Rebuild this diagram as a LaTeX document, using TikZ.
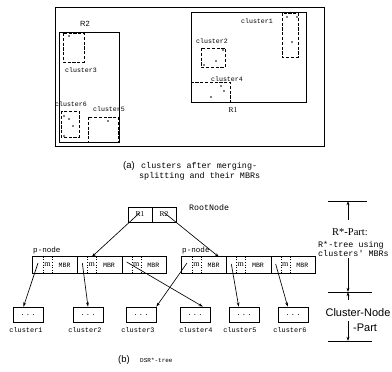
\documentclass[tikz,border=0pt]{standalone}
\usepackage{fontspec}
\setmainfont{Liberation Serif}
\setmonofont{Liberation Mono}
\setsansfont{Liberation Sans}
\usetikzlibrary{arrows.meta}
\newcommand\fsz[1]{\fontsize{#1}{#1}\selectfont}
\begin{document}
\begin{tikzpicture}[x=1pt,y=-1pt,
  thin/.style={draw, line width=0.65pt},
  mbr/.style={draw, line width=0.9pt, dash pattern=on 3.2pt off 1.6pt},
  pdot/.style={fill, circle, inner sep=0pt, minimum size=1.7pt},
  lab/.style={font=\ttfamily\fsz{6.6}, inner sep=0pt},
  captext/.style={font=\ttfamily\fsz{8.4}, inner sep=0pt, anchor=west},
  arr/.style={-{Stealth[length=4.2pt,width=2.8pt]}, line width=0.65pt},
  rbox/.style={draw, line width=0.65pt, minimum width=24pt, minimum height=15pt, inner sep=0pt, font=\rmfamily\fsz{7.5}},
  cbox/.style={draw, line width=0.7pt, minimum width=30pt, minimum height=15pt, inner sep=0pt, font=\ttfamily\fsz{7}},
  cell/.style={minimum height=16pt, inner sep=0pt},
]
\useasboundingbox (0,0) rectangle (392,372);

% ---------- (a) plane with MBRs ----------
\draw[thin] (55,7) rectangle (324,146);
\draw[thin] (59,32) rectangle (119,142);
\node[font=\sffamily\fsz{7.5}, inner sep=0pt] (R2lab) at (85,24) {R2};
\draw[thin] (191,12) rectangle (306,102);
\node[font=\rmfamily\fsz{7.5}, inner sep=0pt] (R1lab) at (233,110) {R1};

% clusters in R2
\draw[mbr] (63,33) rectangle (84,62);
\node[lab] (l3) at (81,70) {cluster3};
\draw[mbr] (61,111) rectangle (79,137);
\node[lab] (l6) at (71,104) {cluster6};
\draw[mbr] (88,117) rectangle (118,142);
\node[lab] (l5) at (109,109) {cluster5};
% clusters in R1
\draw[mbr] (282,13) rectangle (298,57);
\node[lab] (l1) at (257,21) {cluster1};
\draw[mbr] (201,48) rectangle (225,67);
\node[lab] (l2) at (212,41) {cluster2};
\draw[mbr] (191,82) rectangle (230,102);
\node[lab] (l4) at (227,79) {cluster4};

% points
\foreach \p in {(69,36),(64,116),(69,119),(73,126),(64,136),(108,121),
  (287,17),(297,17),(292,42),(223,50),(216,61),(204,65),(221,86),(224,91),(211,97)}
  \node[pdot] at \p {};

% caption (a)
\node[font=\sffamily\fsz{9.5}, inner sep=0pt, anchor=west] (capa) at (123,166) {(a)};
\node[captext] (capa1) at (141,166) {clusters after merging-};
\node[captext] (capa2) at (139,176) {splitting and their MBRs};

% ---------- (b) DSR*-tree ----------
\node[rbox] (r1) at (140,214.5) {R1};
\node[rbox] (r2) at (164,214.5) {R2};
\node[font=\ttfamily\fsz{8.3}, inner sep=0pt, anchor=west] (rootlab) at (189,208) {RootNode};

\node[font=\ttfamily\fsz{7.6}, inner sep=0pt, anchor=west] (pl) at (33,251) {p-node};
\node[font=\ttfamily\fsz{7.6}, inner sep=0pt, anchor=west] (pr) at (182,251) {p-node};

\foreach \nm/\x in {L1/33,L2/77.33,L3/121.67,R1/182,R2/226.33,R3/270.67}{
  \node[cell, minimum width=10pt] (\nm p) at (\x+5,265) {};
  \node[cell, minimum width=9pt, font=\rmfamily\fsz{8}] (\nm m) at (\x+14.5,265) {m};
  \node[cell, minimum width=25.33pt, font=\ttfamily\fsz{6.6}] (\nm b) at (\x+31.67,265) {MBR};
  \draw[dotted, line width=0.6pt] (\nm p.north east) -- (\nm p.south east);
  \draw[dotted, line width=0.6pt] (\nm m.north east) -- (\nm m.south east);
}
\draw[line width=0.7pt] (L1p.north west) rectangle (L3b.south east);
\draw[line width=0.7pt] (L1b.north east) -- (L1b.south east);
\draw[line width=0.7pt] (L2b.north east) -- (L2b.south east);
\draw[line width=0.7pt] (R1p.north west) rectangle (R3b.south east);
\draw[line width=0.7pt] (R1b.north east) -- (R1b.south east);
\draw[line width=0.7pt] (R2b.north east) -- (R2b.south east);

% cluster boxes
\foreach \nm/\x in {c1/28,c2/88,c3/141,c4/195,c5/244,c6/293}{
  \node[cbox] (\nm) at (\x,314.5) {.\,.\,.};
}
\node[lab, font=\ttfamily\fsz{6.9}] (t1) at (26,330) {cluster1};
\node[lab, font=\ttfamily\fsz{6.9}] (t2) at (85,330) {cluster2};
\node[lab, font=\ttfamily\fsz{6.9}] (t3) at (138,330) {cluster3};
\node[lab, font=\ttfamily\fsz{6.9}] (t4) at (196,330) {cluster4};
\node[lab, font=\ttfamily\fsz{6.9}] (t5) at (240,330) {cluster5};
\node[lab, font=\ttfamily\fsz{6.9}] (t6) at (290,330) {cluster6};

% arrows root -> p-nodes
\coordinate (rt) at (219,257);
\draw[arr] ([yshift=2pt]r1.center) -- (L2m.north);
\draw[arr] ([yshift=2pt]r2.center) -- (rt);
% arrows p-node entries -> clusters
\draw[arr] ([yshift=2pt]L1p.center) -- (c1.120);
\draw[arr] ([yshift=2pt]L2p.center) -- (c2.north);
\draw[arr] ([yshift=3pt]L3p.center) -- (c4.45);
\draw[arr] ([yshift=2pt]R1p.center) -- (c3.north east);
\draw[arr] ([yshift=1pt]R2p.center) -- (c5.124);
\draw[arr] ([yshift=1pt]R3p.center) -- (c6.124);

% caption (b)
\node[font=\sffamily\fsz{9.5}, inner sep=0pt, anchor=west] (capb) at (118,360) {(b)};
\node[font=\ttfamily\fsz{6}, inner sep=0pt, anchor=west] (capb1) at (140,360) {DSR*-tree};

% ---------- right annotation ----------
\coordinate (a0) at (348,201);
\coordinate (a1) at (348,220);
\draw[line width=0.7pt] (328,201) -- (367,201);
\draw[arr] (a1) -- (a0);
\node[font=\rmfamily\fsz{10.5}, inner sep=0pt] (rpart) at (350,232) {R*-Part:};
\node[captext] (rtu) at (318,245) {R*-tree using};
\node[captext] (rcm) at (318,253) {clusters' MBRs};
\coordinate (b0) at (348,258);
\coordinate (b1) at (348,292);
\coordinate (b2) at (348,300);
\draw[line width=0.7pt] (328,292) -- (372,292);
\draw[arr] (b0) -- (b1);
\draw[arr] (b2) -- (b1);
\node[font=\sffamily\fsz{11}, inner sep=0pt] (cnp) at (358,313) {Cluster-Node};
\node[font=\sffamily\fsz{11}, inner sep=0pt, anchor=west] (cnp2) at (353,328) {-Part};
\coordinate (d0) at (348,321);
\coordinate (d1) at (348,341);
\draw[line width=0.7pt] (328,341) -- (372,341);
\draw[arr] (d0) -- (d1);
\end{tikzpicture}
\end{document}
